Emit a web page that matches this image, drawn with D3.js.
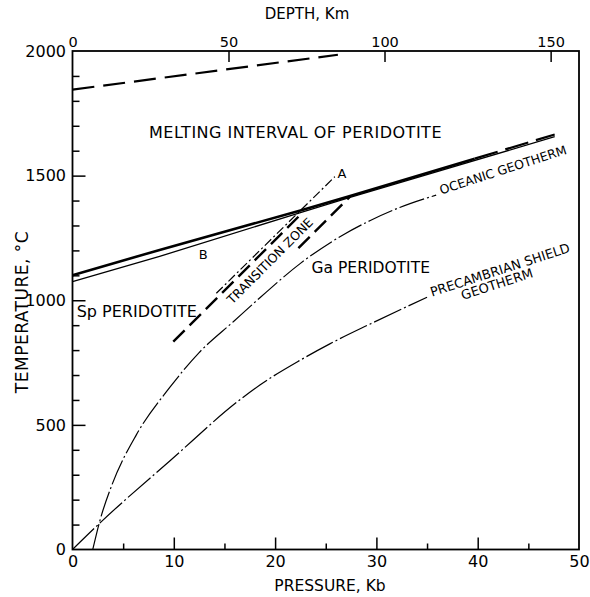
<!DOCTYPE html>
<html>
<head>
<meta charset="utf-8">
<script src="https://cdn.jsdelivr.net/npm/d3@7/dist/d3.min.js"></script>
<style>
  body { margin: 0; background: #fff; }
  text { font-family: "DejaVu Sans", sans-serif; fill: #000; }
</style>
</head>
<body>
<div id="chart"></div>
<script>
// pressure (kb) , temperature (C) pairs
var meltTop = [[0, 1845], [26.2, 1985]];
var solidusUpper = [[0, 1100], [8.6, 1202], [22.5, 1360], [27.4, 1418], [39.7, 1568]];
var solidusUpperDash = [[39.7, 1568], [47.6, 1665]];
var solidusLower = [[0, 1075], [8.6, 1176], [22.5, 1352], [27.4, 1413], [47.6, 1656]];
var zoneUpper = [[9.95, 834], [22.3, 1335]];
var zoneLower = [[22.3, 1209], [27.4, 1416]];
var lineA = [[14.2, 1028], [25.9, 1496]];
var oceanic = [[2.0, 0], [2.7, 115], [3.9, 260], [6.3, 460], [9.6, 650], [12.5, 790], [15.9, 915],
               [18.5, 1010], [22.5, 1148], [26.7, 1262], [29.4, 1320], [32.3, 1372], [35.9, 1422]];
var shield = [[0, 0], [2.8, 110], [9.6, 355], [16.5, 600], [18.5, 660], [22.5, 760], [25.4, 825],
              [29.4, 905], [35, 1012]];

var pressureMajor = [0, 10, 20, 30, 40, 50];
var pressureMinor = [5, 15, 25, 35, 45];
var tempMajor = [0, 500, 1000, 1500, 2000];
var tempMinor = d3.range(100, 2000, 100).filter(function (d) { return d % 500 !== 0; });
var depthKm = [0, 50, 100, 150];
var depthKb = [0, 15.4, 30.8, 47.2];

var width = 590, height = 597;

var svg = d3.select("#chart").append("svg")
    .attr("width", width)
    .attr("height", height);

var x = d3.scaleLinear().domain([0, 50]).range([72.5, 579]);
var y = d3.scaleLinear().domain([0, 2000]).range([549.5, 51]);

var line = d3.line()
    .x(function (d) { return x(d[0]); })
    .y(function (d) { return y(d[1]); });
var curve = d3.line()
    .x(function (d) { return x(d[0]); })
    .y(function (d) { return y(d[1]); })
    .curve(d3.curveMonotoneX);

// frame
svg.append("rect")
    .attr("x", x(0)).attr("y", y(2000))
    .attr("width", x(50) - x(0)).attr("height", y(0) - y(2000))
    .attr("fill", "none").attr("stroke", "#000").attr("stroke-width", 1.8);

// axes
function clean(g) {
    g.select(".domain").remove();
    g.selectAll("line").attr("stroke", "#000").attr("stroke-width", 1.5);
    g.selectAll("text").attr("font-family", "DejaVu Sans").attr("fill", "#000");
}
function dropCorner(g, ends) {
    g.selectAll(".tick").filter(function (d) { return ends.indexOf(d) >= 0; })
        .select("line").remove();
}

svg.append("g").attr("transform", "translate(0," + y(0) + ")")
    .call(d3.axisBottom(x).tickValues(pressureMinor).tickSize(-6).tickFormat(""))
    .call(clean);
svg.append("g").attr("transform", "translate(0," + y(0) + ")")
    .call(d3.axisBottom(x).tickValues(pressureMajor).tickSize(-12).tickPadding(6)
        .tickFormat(d3.format("d")))
    .attr("font-size", 16)
    .call(clean)
    .call(dropCorner, [0, 50]);

svg.append("g").attr("transform", "translate(" + x(0) + ",0)")
    .call(d3.axisLeft(y).tickValues(tempMinor).tickSize(-7).tickFormat(""))
    .call(clean);
svg.append("g").attr("transform", "translate(" + x(0) + ",0)")
    .call(d3.axisLeft(y).tickValues(tempMajor).tickSize(-13).tickPadding(6.5)
        .tickFormat(d3.format("d")))
    .attr("font-size", 16)
    .call(clean)
    .call(dropCorner, [0, 2000]);

svg.append("g").attr("transform", "translate(0," + y(2000) + ")")
    .call(d3.axisTop(x).tickValues(depthKb).tickSize(-11).tickPadding(4)
        .tickFormat(function (d, i) { return depthKm[i]; }))
    .attr("font-size", 14.5)
    .call(clean)
    .call(dropCorner, [0]);

// axis titles
svg.append("text").attr("x", 307).attr("y", 14).attr("dy", "0.35em")
    .attr("text-anchor", "middle").attr("font-size", 15).text("DEPTH, Km");
svg.append("text").attr("x", 330).attr("y", 586).attr("dy", "0.35em")
    .attr("text-anchor", "middle").attr("font-size", 15.5).text("PRESSURE, Kb");
svg.append("text").attr("transform", "translate(22,312) rotate(-90)").attr("dy", "0.35em")
    .attr("text-anchor", "middle").attr("font-size", 17).attr("letter-spacing", 0.5)
    .text("TEMPERATURE, \u00b0C");

// curves
function draw(data, gen, w, dash) {
    svg.append("path").datum(data)
        .attr("d", gen)
        .attr("fill", "none")
        .attr("stroke", "#000")
        .attr("stroke-width", w)
        .attr("stroke-dasharray", dash || null);
}

draw(meltTop, line, 2.2, "22,9");
draw(solidusUpper, line, 2.6);
draw(solidusUpperDash, line, 2.2, "24,8");
draw(solidusLower, line, 1.3);
draw(zoneUpper, line, 2.4, "16,7");
draw(zoneLower, line, 2.4, "16,7");
draw(lineA, line, 1.2, "9,3,2,3");
draw(oceanic, curve, 1.2, "26,3,2,3");
draw(shield, curve, 1.2, "30,3,2,3");

// labels
function label(px, py, txt, size, angle, anchor) {
    return svg.append("text")
        .attr("transform", "translate(" + x(px) + "," + y(py) + ") rotate(" + (angle || 0) + ")")
        .attr("dy", "0.35em")
        .attr("text-anchor", anchor || "middle")
        .attr("font-size", size)
        .text(txt);
}

label(7.55, 1675, "MELTING INTERVAL OF PERIDOTITE", 16, 0, "start").attr("letter-spacing", 0.5);
label(0.41, 957, "Sp PERIDOTITE", 16, 0, "start");
label(23.6, 1130, "Ga PERIDOTITE", 15.5, 0, "start");
label(26.6, 1510, "A", 13);
label(12.9, 1182, "B", 13);
label(19.5, 1158, "TRANSITION ZONE", 12.5, -45);
label(42.5, 1523, "OCEANIC  GEOTHERM", 12.5, -18);
label(42.2, 1122, "PRECAMBRIAN SHIELD", 13, -18);
label(41.9, 1065, "GEOTHERM", 13, -18);
</script>
</body>
</html>
